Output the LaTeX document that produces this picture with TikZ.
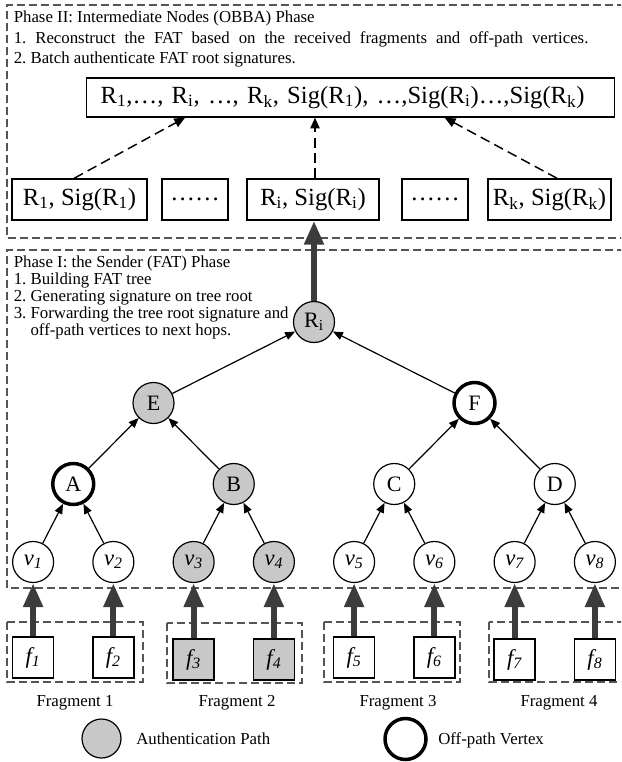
\documentclass[tikz,border=0pt]{standalone}
\usepackage{fontspec}
\setmainfont{Liberation Serif}
\usetikzlibrary{trees,positioning,arrows.meta}
\definecolor{pathgray}{RGB}{200,200,200}
\definecolor{arrowgray}{RGB}{60,60,60}
\definecolor{dashgray}{RGB}{85,85,85}

\begin{document}
\frenchspacing
\begin{tikzpicture}[%
			x=0.75pt, y=-0.75pt,
			>={Triangle[length=7.5pt,width=6pt]},
			level distance=60.75pt,
			level 1/.style={sibling distance=240.75pt},
			level 2/.style={sibling distance=120.4pt},
			level 3/.style={sibling distance=60.2pt, level distance=58.5pt},
			edge from parent/.style={draw, line width=0.9pt, <-},
			vertex/.style={circle, draw, line width=0.9pt, fill=white, minimum size=30.75pt, inner sep=0pt, font=\fontsize{16.5}{16.5}\selectfont},
			leaf/.style={vertex, font=\fontsize{17}{17}\selectfont\itshape},
			authpath/.style={fill=pathgray},
			offpath/.style={line width=2.6pt},
			fragsq/.style={draw, line width=1.1pt, fill=white, minimum size=30.75pt, inner sep=0pt, font=\fontsize{17}{17}\selectfont\itshape},
			sigbox/.style={draw, line width=1.1pt, minimum height=30.75pt, inner sep=0pt, font=\fontsize{18.5}{22}\selectfont},
			phaseline/.style={draw=dashgray, line width=0.8pt, dash pattern=on 6pt off 3pt},
			dasharrow/.style={line width=1.1pt, dash pattern=on 7.5pt off 4pt, -{Triangle[length=8pt,width=7pt]}},
			bigarrow/.style={draw=arrowgray, fill=arrowgray, line width=4.5pt, -{Triangle[length=18pt,width=14pt]}},
			small/.style={inner sep=0pt, font=\fontsize{12.6}{15.2}\selectfont},
			]
			\useasboundingbox (0,0) rectangle (621,762);
			\clip (0,0) rectangle (621,762);

			\draw[phaseline] (625,5) -| (7,238) -- (625,238);
			\draw[phaseline] (625,250) -| (7,588) -- (625,588);

			\node[small, align=left, anchor=base west] (p2text) at (13.5,63.3)
				{Phase II: Intermediate Nodes (OBBA) Phase\\
				\makebox[431pt][s]{1. Reconstruct the FAT based on the received fragments and off-path vertices.}\\
				2. Batch authenticate FAT root signatures.};
			\node[small, align=left, anchor=base west, font=\fontsize{12.6}{12.7}\selectfont] (p1text) at (13.5,335.7)
				{Phase I: the Sender (FAT) Phase\\
				1. Building FAT tree\\
				2. Generating signature on tree root\\
				3. Forwarding the tree root signature and\\
				\phantom{3. }off-path vertices to next hops.};

			\node[sigbox, anchor=west, minimum height=29.25pt, text width=375pt, inner xsep=10.5pt, align=left] (all) at (86,97.5)
				{R\textsubscript{1},…, R\textsubscript{i}, …, R\textsubscript{k}, Sig(R\textsubscript{1}), …,Sig(R\textsubscript{i})…,Sig(R\textsubscript{k})};
			\node[sigbox, minimum width=101.25pt] (s1) at (79.5,199.5) {R\textsubscript{1}, Sig(R\textsubscript{1})};
			\node[sigbox, minimum width=49.5pt] (d1) at (195,199.5) {……};
			\node[sigbox, minimum width=99pt] (si) at (313,199.5) {R\textsubscript{i}, Sig(R\textsubscript{i})};
			\node[sigbox, minimum width=49.5pt] (d2) at (435,199.5) {……};
			\node[sigbox, minimum width=92.25pt] (sk) at (549.5,199.5) {R\textsubscript{k}, Sig(R\textsubscript{k})};

			\draw[dasharrow] ([xshift=-4pt]s1.north) -- ([xshift=74.25pt]all.south west);
			\draw[dasharrow] ([xshift=1.5pt]si.north) -- ([xshift=1.5pt]si.north |- all.south);
			\draw[dasharrow] ([xshift=5.6pt]sk.north) -- ([xshift=-128pt]all.south east);

			\node[vertex, authpath] (Ri) at (314,322) {R\textsubscript{i}}
				child { node[vertex, authpath] (E) {E}
					child { node[vertex, offpath] (A) {A}
						child { node[leaf] (v1) {v\textsubscript{1}}}
						child { node[leaf] (v2) {v\textsubscript{2}}}
					}
					child { node[vertex, authpath] (B) {B}
						child { node[leaf, authpath] (v3) {v\textsubscript{3}}}
						child { node[leaf, authpath] (v4) {v\textsubscript{4}}}
					}
				}
				child { node[vertex, offpath] (F) {F}
					child { node[vertex] (C) {C}
						child { node[leaf] (v5) {v\textsubscript{5}}}
						child { node[leaf] (v6) {v\textsubscript{6}}}
					}
					child { node[vertex] (D) {D}
						child { node[leaf] (v7) {v\textsubscript{7}}}
						child { node[leaf] (v8) {v\textsubscript{8}}}
					}
				};

			\draw[bigarrow] (Ri) -- (Ri |- si.south);

			\node[fragsq, below=40pt of v1] (f1) {f\textsubscript{1}};
			\node[fragsq, below=40pt of v2] (f2) {f\textsubscript{2}};
			\node[fragsq, authpath, below=41.5pt of v3] (f3) {f\textsubscript{3}};
			\node[fragsq, authpath, below=41.5pt of v4] (f4) {f\textsubscript{4}};
			\node[fragsq, below=40pt of v5] (f5) {f\textsubscript{5}};
			\node[fragsq, below=40pt of v6] (f6) {f\textsubscript{6}};
			\node[fragsq, below=41.5pt of v7] (f7) {f\textsubscript{7}};
			\node[fragsq, below=41.5pt of v8] (f8) {f\textsubscript{8}};

			\draw[phaseline] (7,622) rectangle (143,682);
			\draw[phaseline] (167,623) rectangle (302,683);
			\draw[phaseline] (324,622) rectangle (460,682);
			\draw[phaseline] (489,622) rectangle (629,682);

			\draw[bigarrow] (f1) -- (v1);
			\draw[bigarrow] (f2) -- (v2);
			\draw[bigarrow] (f3) -- (v3);
			\draw[bigarrow] (f4) -- (v4);
			\draw[bigarrow] (f5) -- (v5);
			\draw[bigarrow] (f6) -- (v6);
			\draw[bigarrow] (f7) -- (v7);
			\draw[bigarrow] (f8) -- (v8);

			\node[small, anchor=base] (frag1) at (75,706) {Fragment 1};
			\node[small, anchor=base] (frag2) at (237,706) {Fragment 2};
			\node[small, anchor=base] (frag3) at (398,706) {Fragment 3};
			\node[small, anchor=base] (frag4) at (559,706) {Fragment 4};

			\node[vertex, authpath, minimum size=29.25pt] (key1) at (101.5,738.5) {};
			\node[small, anchor=base west] (keytext1) at (136,744) {Authentication Path};
			\node[vertex, offpath] (key2) at (405.5,739) {};
			\node[small, anchor=base west] (keytext2) at (438,744) {Off-path Vertex};
		\end{tikzpicture}
\end{document}
